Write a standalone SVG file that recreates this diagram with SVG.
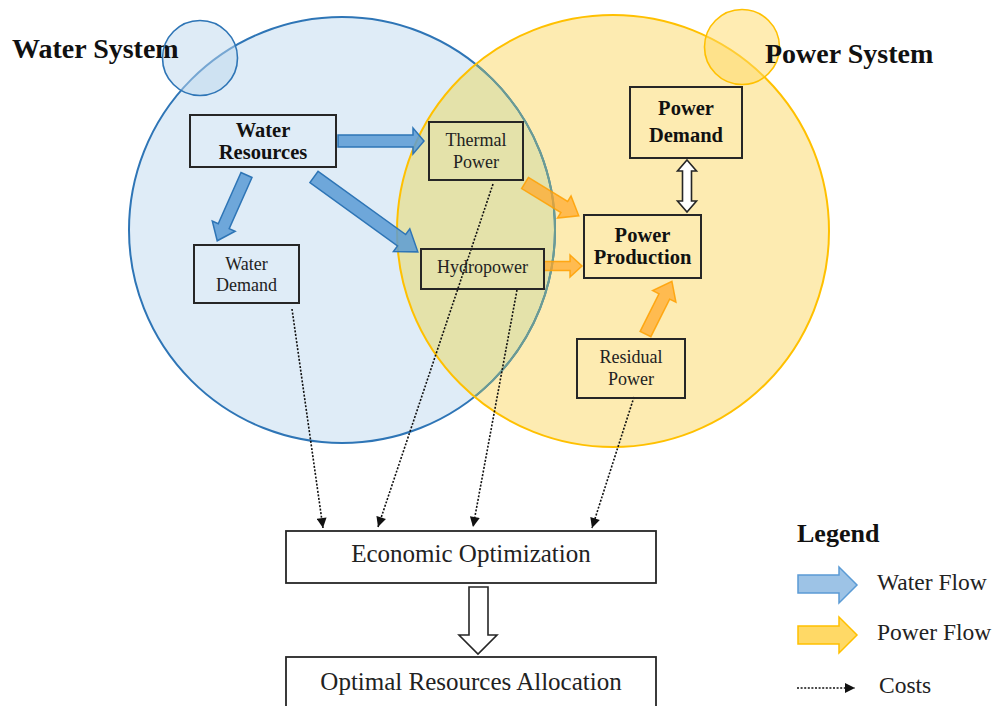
<svg xmlns="http://www.w3.org/2000/svg" width="995" height="706" viewBox="0 0 995 706">
<style>
.box{fill:none;stroke:#262626;stroke-width:2}
.wbox{fill:#ffffff;stroke:#262626;stroke-width:1.8}
.b{font-family:"Liberation Serif",serif;font-weight:bold;font-size:20.5px;fill:#111;text-anchor:middle}
.r{font-family:"Liberation Serif",serif;font-size:18px;fill:#222;text-anchor:middle}
.big{font-family:"Liberation Serif",serif;font-size:25px;fill:#222;text-anchor:middle}
.title{font-family:"Liberation Serif",serif;font-weight:bold;font-size:28px;fill:#111}
.leg{font-family:"Liberation Serif",serif;font-size:23.5px;fill:#222}
.wf{fill:#5B9BD5;fill-opacity:0.85;stroke:#2E75B6;stroke-width:1.5}
.pf{fill:#FFA726;fill-opacity:0.7;stroke:#FFA000;stroke-opacity:0.85;stroke-width:1.5}
.cost{fill:none;stroke:#111;stroke-width:1.6;stroke-dasharray:2 1.6;marker-end:url(#tri)}
.hollow{fill:#ffffff;stroke:#262626;stroke-width:1.6}
</style>
<defs>
<marker id="tri" viewBox="0 0 10 10" refX="10" refY="5" markerWidth="11" markerHeight="10" markerUnits="userSpaceOnUse" orient="auto">
<path d="M0,0 L10,5 L0,10 Z" fill="#111"/>
</marker>
<clipPath id="yc"><circle cx="613" cy="231" r="216"/></clipPath>
</defs>
<rect width="995" height="706" fill="#ffffff"/>
<g id="circles">
<circle cx="342" cy="230" r="213" fill="#DFECF7"/>
<circle cx="613" cy="231" r="216" fill="#FDEBB1"/>
<circle cx="342" cy="230" r="213" fill="#E4E2AA" clip-path="url(#yc)"/>
<circle cx="342" cy="230" r="213" fill="none" stroke="#2E75B6" stroke-width="2"/>
<circle cx="342" cy="230" r="213" fill="none" stroke="#6C9C92" stroke-width="2" clip-path="url(#yc)"/>
<circle cx="613" cy="231" r="216" fill="none" stroke="#FFC000" stroke-width="2"/>
</g>
<g id="water-system">
<circle cx="200" cy="58" r="37.5" fill="#BDD7EE" fill-opacity="0.5"/>
<text class="title" x="12" y="58">Water System</text>
<circle cx="200" cy="58" r="37.5" fill="none" stroke="#2E75B6" stroke-width="1.6"/>
</g>
<g id="power-system">
<circle cx="742" cy="47" r="37.5" fill="#FFD966" fill-opacity="0.5" stroke="#FFC000" stroke-width="1.6"/>
<text class="title" x="765" y="63">Power System</text>
</g>
<g id="connectors">
<path class="wf" d="M338,135 L413,135 L413,128 L424,141 L413,154 L413,147 L338,147 Z"/>
<path class="wf" transform="translate(314,177) rotate(35.8)" d="M0,-7 L108,-7 L108,-14 L128,0 L108,14 L108,7 L0,7 Z"/>
<path class="wf" transform="translate(246.5,175) rotate(114)" d="M0,-6 L56,-6 L56,-12.5 L72,0 L56,12.5 L56,6 L0,6 Z"/>
<path class="pf" transform="translate(525,183) rotate(31.4)" d="M0,-6.5 L46,-6.5 L46,-13 L63,0 L46,13 L46,6.5 L0,6.5 Z"/>
<path class="pf" d="M544,261.5 L570,261.5 L570,255 L582,266 L570,277 L570,270.5 L544,270.5 Z"/>
<path class="pf" transform="translate(645.5,334) rotate(-63.4)" d="M0,-6 L42,-6 L42,-13 L59,0 L42,13 L42,6 L0,6 Z"/>
<path class="hollow" d="M687,160 L696.5,171 L691.5,171 L691.5,201 L696.5,201 L687,212 L677.5,201 L682.5,201 L682.5,171 L677.5,171 Z"/>
<path class="cost" d="M292,309 L323,528"/>
<path class="cost" d="M493,184 L378,527"/>
<path class="cost" d="M517,290 L473,527"/>
<path class="cost" d="M634,397 L592,528"/>
<path class="hollow" d="M469,587 L488,587 L488,635 L497,635 L478,654 L459,635 L469,635 Z"/>
</g>
<g id="water-resources">
<rect class="box" x="190" y="115" width="146" height="52"/>
<text class="b" x="263" y="137">Water</text>
<text class="b" x="263" y="159">Resources</text>
</g>
<g id="thermal-power">
<rect class="box" x="429" y="122" width="94" height="58"/>
<text class="r" x="476" y="146">Thermal</text>
<text class="r" x="476" y="168">Power</text>
</g>
<g id="hydropower">
<rect class="box" x="421" y="249" width="123" height="40"/>
<text class="r" x="482.5" y="273">Hydropower</text>
</g>
<g id="water-demand">
<rect class="box" x="194" y="245" width="105" height="58"/>
<text class="r" x="246.5" y="270">Water</text>
<text class="r" x="246.5" y="291">Demand</text>
</g>
<g id="power-demand">
<rect class="box" x="630" y="87" width="112" height="71"/>
<text class="b" x="686" y="115">Power</text>
<text class="b" x="686" y="142">Demand</text>
</g>
<g id="power-production">
<rect class="box" x="584" y="215" width="117" height="63"/>
<text class="b" x="642.5" y="242">Power</text>
<text class="b" x="642.5" y="264">Production</text>
</g>
<g id="residual-power">
<rect class="box" x="577" y="339" width="108" height="59"/>
<text class="r" x="631" y="363">Residual</text>
<text class="r" x="631" y="385">Power</text>
</g>
<g id="economic-optimization">
<rect class="wbox" x="286" y="531" width="370" height="52"/>
<text class="big" x="471" y="562">Economic Optimization</text>
</g>
<g id="optimal-allocation">
<rect class="wbox" x="286" y="657" width="370" height="60"/>
<text class="big" x="471" y="690">Optimal Resources Allocation</text>
</g>
<g id="legend">
<text x="797" y="542" style="font-family:'Liberation Serif',serif;font-weight:bold;font-size:26px;fill:#111">Legend</text>
<path d="M798,575 L839,575 L839,567 L857,585 L839,603 L839,593 L798,593 Z" fill="#9DC3E6" stroke="#5B9BD5" stroke-width="1.5"/>
<text class="leg" x="877" y="590">Water Flow</text>
<path d="M798,626 L839,626 L839,617 L857,635 L839,653 L839,644 L798,644 Z" fill="#FFD966" stroke="#FFC000" stroke-width="1.5"/>
<text class="leg" x="877" y="640">Power Flow</text>
<path class="cost" d="M797,688 L855,688"/>
<text class="leg" x="879" y="693">Costs</text>
</g>
</svg>
